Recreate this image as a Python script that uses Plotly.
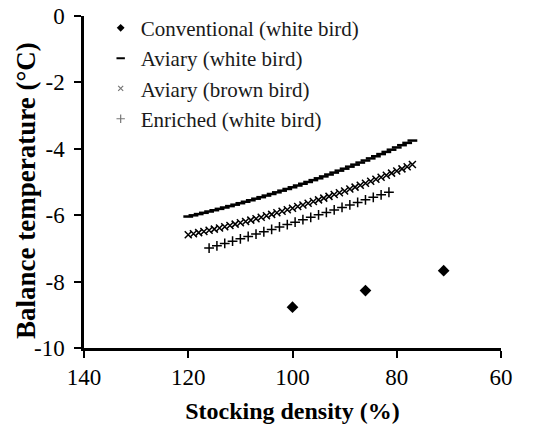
import plotly.graph_objects as go

# ---- data ----
conv_x = [100, 86, 71]
conv_y = [-8.77, -8.27, -7.67]

aviary_x = [120, 119, 118, 117, 116, 115, 114, 113, 112, 111, 110, 109, 108, 107, 106,
            105, 104, 103, 102, 101, 100, 99, 98, 97, 96, 95, 94, 93, 92, 91, 90,
            89, 88, 87, 86, 85, 84, 83, 82, 81, 80, 79, 78, 77]
aviary_white_y = [-6.040, -6.004, -5.966, -5.928, -5.889, -5.850, -5.809, -5.768, -5.726,
                  -5.683, -5.639, -5.595, -5.550, -5.503, -5.457, -5.409, -5.361, -5.311,
                  -5.261, -5.210, -5.159, -5.106, -5.053, -4.999, -4.944, -4.889, -4.832,
                  -4.775, -4.717, -4.658, -4.599, -4.538, -4.477, -4.415, -4.353, -4.289,
                  -4.225, -4.159, -4.094, -4.027, -3.959, -3.891, -3.822, -3.752]
aviary_brown_y = [-6.590, -6.558, -6.524, -6.490, -6.455, -6.420, -6.383, -6.346, -6.308,
                  -6.269, -6.229, -6.189, -6.148, -6.105, -6.063, -6.019, -5.975, -5.929,
                  -5.883, -5.836, -5.789, -5.740, -5.691, -5.641, -5.590, -5.539, -5.486,
                  -5.433, -5.379, -5.324, -5.269, -5.212, -5.155, -5.097, -5.039, -4.979,
                  -4.919, -4.857, -4.796, -4.733, -4.669, -4.605, -4.540, -4.474]

enriched_x = [116, 114.5, 113, 111.5, 110, 108.5, 107, 105.5, 104, 102.5, 101, 99.5,
              98, 96.5, 95, 93.5, 92, 90.5, 89, 87.5, 86, 84.5, 83, 81.5]
enriched_y = [-6.990, -6.921, -6.851, -6.781, -6.711, -6.641, -6.570, -6.498, -6.427,
              -6.354, -6.282, -6.209, -6.136, -6.063, -5.989, -5.915, -5.840, -5.765,
              -5.690, -5.614, -5.538, -5.462, -5.385, -5.308]

series_names = ["Conventional (white bird)", "Aviary (white bird)",
                "Aviary (brown bird)", "Enriched (white bird)"]

x_ticks = [140, 120, 100, 80, 60]
x_tick_text = ["140", "120", "100", "80", "60"]
y_ticks = [0, -2, -4, -6, -8, -10]
y_tick_text = ["0", "-2", "-4", "-6", "-8", "-10"]

FONT = "Liberation Serif, Times New Roman, serif"

symbols = ["diamond", "line-ew", "x-thin", "cross-thin"]
plot_sizes = [9, 7, 7, 7]
legend_sizes = [6, 6, 5, 6]
line_widths = [0, 2.5, 1.5, 1.5]
xs = [conv_x, aviary_x, aviary_x, enriched_x]
ys = [conv_y, aviary_white_y, aviary_brown_y, enriched_y]
legend_colors = ["black", "black", "#777", "#777"]

fig = go.Figure()
for i in range(4):
    fig.add_trace(go.Scatter(x=xs[i], y=ys[i], mode="markers", name=series_names[i],
                             showlegend=False,
                             marker=dict(symbol=symbols[i], size=plot_sizes[i], color="black",
                                         line=dict(color="black", width=line_widths[i]))))
for i in range(4):
    fig.add_trace(go.Scatter(x=[None], y=[None], mode="markers", name=series_names[i],
                             marker=dict(symbol=symbols[i], size=legend_sizes[i],
                                         color=legend_colors[i],
                                         line=dict(color=legend_colors[i],
                                                   width=line_widths[i] * 0.8))))

fig.update_layout(
    width=538, height=424,
    margin=dict(l=84, r=37, t=16, b=76, autoexpand=False),
    paper_bgcolor="white", plot_bgcolor="white",
    font=dict(family=FONT, size=22, color="black"),
    showlegend=True,
    legend=dict(x=0.04, y=1.025, xanchor="left", yanchor="top",
                bgcolor="rgba(0,0,0,0)", font=dict(family=FONT, size=21, color="#1a1a1a"),
                itemwidth=30, tracegroupgap=0),
    xaxis=dict(range=[140, 60], tickvals=x_ticks, ticktext=x_tick_text,
               ticks="outside", ticklen=7, tickwidth=2, automargin=False,
               tickcolor="black", showline=True, linecolor="black", linewidth=2.5,
               showgrid=False, zeroline=False, mirror=False,
               tickfont=dict(family=FONT, size=23),
               title=dict(text="<b>Stocking density (%)</b>", font=dict(family=FONT, size=24),
                          standoff=13)),
    yaxis=dict(range=[-10, 0], tickvals=y_ticks, ticktext=y_tick_text,
               ticks="outside", ticklen=7, tickwidth=2, automargin=False,
               tickcolor="black", showline=True, linecolor="black", linewidth=2.5,
               showgrid=False, zeroline=False, ticklabelstandoff=5,
               tickfont=dict(family=FONT, size=23)),
    annotations=[dict(text="<b>Balance temperature (°C)</b>", textangle=-90,
                      xref="paper", yref="paper", x=-0.139, y=0.473,
                      xanchor="center", yanchor="middle", showarrow=False,
                      font=dict(family=FONT, size=27, color="black"))],
)

fig.write_html("out.html")
